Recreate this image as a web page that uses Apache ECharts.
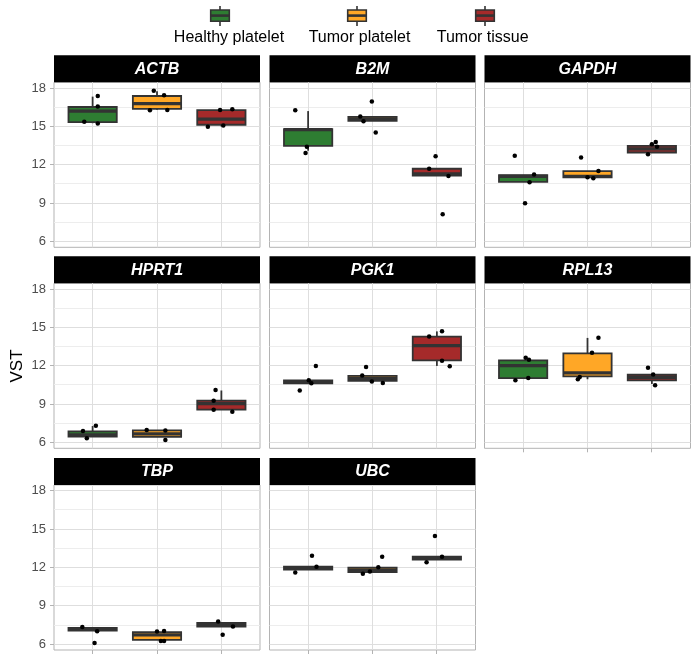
<!DOCTYPE html>
<html>
<head>
    <meta charset="utf-8">
    <title>VST boxplots</title>
    <script src="https://cdn.jsdelivr.net/npm/echarts@6.0.0/dist/echarts.min.js"></script>
</head>
<body style="margin:0;background:#fff;">
    <div id="main" style="width:700px;height:660px;"></div>
    <script type="text/javascript">
        var groups = ['Healthy platelet', 'Tumor platelet', 'Tumor tissue'];
        var genes = ['ACTB', 'B2M', 'GAPDH', 'HPRT1', 'PGK1', 'RPL13', 'TBP', 'UBC'];
        var yMajor = [6, 9, 12, 15, 18];
        var yMinor = [7.5, 10.5, 13.5, 16.5];

        // box per group: [lower whisker, q1, median, q3, upper whisker]
        var boxACTB = [[15.25, 15.34, 16.19, 16.52, 17.33], [16.3, 16.37, 16.78, 17.38, 17.76], [15.0, 15.13, 15.57, 16.27, 16.3]];
        var boxB2M = [[13.1, 13.48, 14.75, 14.79, 16.2], [15.44, 15.44, 15.59, 15.75, 15.75], [11.15, 11.15, 11.3, 11.69, 11.69]];
        var boxGAPDH = [[10.66, 10.66, 11.1, 11.2, 11.2], [11.02, 11.02, 11.1, 11.51, 11.51], [12.96, 12.96, 13.24, 13.48, 13.73]];
        var boxHPRT1 = [[6.46, 6.46, 6.6, 6.87, 7.29], [6.45, 6.45, 6.68, 6.95, 6.95], [8.55, 8.57, 9.04, 9.27, 10.07]];
        var boxPGK1 = [[10.63, 10.63, 10.76, 10.86, 10.86], [10.83, 10.83, 11.01, 11.22, 11.22], [11.99, 12.43, 13.58, 14.28, 14.69]];
        var boxRPL13 = [[11.04, 11.04, 12.02, 12.43, 12.43], [10.95, 11.17, 11.45, 12.97, 14.18], [10.58, 10.86, 11.09, 11.3, 11.3]];
        var boxTBP = [[7.06, 7.06, 7.17, 7.27, 7.27], [6.34, 6.34, 6.73, 6.94, 6.94], [7.38, 7.38, 7.56, 7.66, 7.66]];
        var boxUBC = [[11.83, 11.83, 11.93, 12.06, 12.06], [11.65, 11.65, 11.78, 11.98, 11.98], [12.61, 12.61, 12.74, 12.84, 12.84]];

        // jittered points: [group index, x offset, value]
        var ptsACTB = [[0, 0.08, 17.38], [0, 0.08, 16.55], [0, -0.13, 15.36], [0, 0.08, 15.23],
            [1, -0.05, 17.79], [1, 0.11, 17.43], [1, -0.11, 16.27], [1, 0.16, 16.29],
            [2, -0.02, 16.29], [2, 0.17, 16.34], [2, -0.21, 14.97], [2, 0.03, 15.08]];
        var ptsB2M = [[0, -0.2, 16.27], [0, -0.04, 12.93], [0, -0.02, 13.42],
            [1, -0.01, 16.94], [1, -0.19, 15.78], [1, -0.14, 15.41], [1, 0.05, 14.53],
            [2, -0.02, 12.67], [2, -0.12, 11.69], [2, 0.18, 11.12], [2, 0.09, 8.13]];
        var ptsGAPDH = [[0, -0.13, 12.7], [0, 0.03, 9.0], [0, 0.1, 10.63], [0, 0.17, 11.25],
            [1, -0.1, 12.57], [1, 0, 11.02], [1, 0.09, 10.94], [1, 0.17, 11.51],
            [2, 0.06, 13.79], [2, -0.06, 12.83], [2, 0.08, 13.42], [2, 0, 13.6]];
        var ptsHPRT1 = [[0, 0.05, 7.31], [0, -0.09, 6.34], [0, -0.15, 6.9],
            [1, -0.16, 6.98], [1, 0.13, 6.95], [1, 0.13, 6.2],
            [2, -0.09, 10.1], [2, -0.12, 9.27], [2, 0.17, 8.4], [2, -0.12, 8.57]];
        var ptsPGK1 = [[0, 0.12, 11.99], [0, -0.13, 10.06], [0, 0.01, 10.88], [0, 0.05, 10.63],
            [1, -0.1, 11.91], [1, -0.16, 11.24], [1, -0.01, 10.78], [1, 0.16, 10.65],
            [2, 0.08, 14.71], [2, -0.12, 14.3], [2, 0.08, 12.4], [2, 0.2, 11.96]];
        var ptsRPL13 = [[0, 0.04, 12.63], [0, 0.09, 12.48], [0, -0.12, 10.88], [0, 0.08, 11.04],
            [1, 0.17, 14.2], [1, 0.07, 13.02], [1, -0.15, 10.94], [1, -0.12, 11.12],
            [2, -0.06, 11.84], [2, 0.02, 11.32], [2, 0.05, 10.47]];
        var ptsTBP = [[0, -0.16, 7.35], [0, 0.07, 7.01], [0, 0.03, 6.1],
            [1, 0, 6.99], [1, 0.11, 7.04], [1, 0.06, 6.26], [1, 0.11, 6.26],
            [2, -0.05, 7.77], [2, 0.02, 6.75], [2, 0.18, 7.38]];
        var ptsUBC = [[0, 0.06, 12.92], [0, -0.2, 11.6], [0, 0.13, 12.06],
            [1, 0.15, 12.84], [1, -0.15, 11.52], [1, 0.09, 12.01], [1, -0.04, 11.68],
            [2, -0.03, 14.47], [2, -0.16, 12.42], [2, 0.08, 12.84]];

        var boxes = [boxACTB, boxB2M, boxGAPDH, boxHPRT1, boxPGK1, boxRPL13, boxTBP, boxUBC];
        var points = [ptsACTB, ptsB2M, ptsGAPDH, ptsHPRT1, ptsPGK1, ptsRPL13, ptsTBP, ptsUBC];

        var colors = ['#2e7d32', '#ffa726', '#a52a2a'];
        var font = 'Liberation Sans, Arial, sans-serif';
        var colLeft = [54, 269.5, 484.5];
        var rowTop = [82.3, 283.3, 485];
        var panelW = 206, panelH = 165, stripH = 27;
        var yMin = 5.55, yMax = 18.45;

        var myChart = echarts.init(document.getElementById('main'));

        var grids = [], xAxes = [], yAxes = [], series = [], graphics = [];

        function crisp(v) {
            return Math.round(v - 0.5) + 0.5;
        }

        genes.forEach(function (gene, i) {
            var col = i % 3, row = Math.floor(i / 3);
            var hasBottomAxis = (i + 3 >= genes.length);
            grids.push({
                left: colLeft[col], top: rowTop[row], width: panelW, height: panelH,
                show: true, borderColor: '#b3b3b3', borderWidth: 1, backgroundColor: '#fff'
            });
            xAxes.push({
                gridIndex: i, type: 'value', min: 0.4, max: 3.6,
                axisLine: { show: false }, axisTick: { show: false },
                axisLabel: { show: false }, splitLine: { show: false }
            });
            yAxes.push({
                gridIndex: i, type: 'value', min: yMin, max: yMax, interval: 0.15,
                axisLine: { show: false }, axisTick: { show: false }, splitLine: { show: false },
                axisLabel: {
                    show: col === 0, color: '#4d4d4d', fontSize: 13, fontFamily: font, margin: 8,
                    formatter: function (v) {
                        for (var k = 0; k < yMajor.length; k++) {
                            if (Math.abs(v - yMajor[k]) < 1e-6) return String(yMajor[k]);
                        }
                        return '';
                    }
                }
            });

            // grid lines and axis ticks
            series.push({
                type: 'custom', xAxisIndex: i, yAxisIndex: i, silent: true, z: 1,
                data: [[2, 12]],
                renderItem: function (params, api) {
                    var cs = params.coordSys;
                    var ch = [];
                    yMinor.forEach(function (v) {
                        var y = crisp(api.coord([1, v])[1]);
                        ch.push({ type: 'line', shape: { x1: cs.x, y1: y, x2: cs.x + cs.width, y2: y }, style: { stroke: '#ededed', lineWidth: 1 } });
                    });
                    yMajor.forEach(function (v) {
                        var y = crisp(api.coord([1, v])[1]);
                        ch.push({ type: 'line', shape: { x1: cs.x, y1: y, x2: cs.x + cs.width, y2: y }, style: { stroke: '#dedede', lineWidth: 1 } });
                        if (col === 0) {
                            ch.push({ type: 'line', shape: { x1: cs.x - 4, y1: y, x2: cs.x, y2: y }, style: { stroke: '#b3b3b3', lineWidth: 1 } });
                        }
                    });
                    [1, 2, 3].forEach(function (g) {
                        var x = crisp(api.coord([g, 12])[0]);
                        ch.push({ type: 'line', shape: { x1: x, y1: cs.y, x2: x, y2: cs.y + cs.height }, style: { stroke: '#dedede', lineWidth: 1 } });
                        if (hasBottomAxis) {
                            ch.push({ type: 'line', shape: { x1: x, y1: cs.y + cs.height, x2: x, y2: cs.y + cs.height + 4 }, style: { stroke: '#b3b3b3', lineWidth: 1 } });
                        }
                    });
                    return { type: 'group', children: ch };
                }
            });

            // boxes
            series.push({
                type: 'custom', xAxisIndex: i, yAxisIndex: i, silent: true, z: 3,
                encode: { x: 0, y: 3 },
                data: boxes[i].map(function (b, g) {
                    return [g + 1].concat(b).concat([g]);
                }),
                renderItem: function (params, api) {
                    var g = api.value(0);
                    var lo = api.value(1), q1 = api.value(2), md = api.value(3), q3 = api.value(4), hi = api.value(5);
                    var c = colors[api.value(6)];
                    var pHi = api.coord([g, hi]), pQ3 = api.coord([g, q3]);
                    var pQ1 = api.coord([g, q1]), pLo = api.coord([g, lo]);
                    var l = api.coord([g - 0.375, md])[0], r = api.coord([g + 0.375, md])[0];
                    var yMd = api.coord([g, md])[1];
                    return {
                        type: 'group', children: [
                            { type: 'line', shape: { x1: pHi[0], y1: pHi[1], x2: pQ3[0], y2: pQ3[1] }, style: { stroke: '#333', lineWidth: 1.8 } },
                            { type: 'line', shape: { x1: pLo[0], y1: pLo[1], x2: pQ1[0], y2: pQ1[1] }, style: { stroke: '#333', lineWidth: 1.8 } },
                            { type: 'rect', shape: { x: l, y: pQ3[1], width: r - l, height: pQ1[1] - pQ3[1] }, style: { fill: c, stroke: '#333', lineWidth: 1.8 } },
                            { type: 'line', shape: { x1: l, y1: yMd, x2: r, y2: yMd }, style: { stroke: '#333', lineWidth: 3.2 } }
                        ]
                    };
                }
            });

            // jittered points
            series.push({
                type: 'scatter', xAxisIndex: i, yAxisIndex: i, silent: true, z: 4,
                symbolSize: 4.5, itemStyle: { color: '#000', opacity: 1 },
                data: points[i].map(function (p) {
                    return [p[0] + 1 + p[1], p[2]];
                })
            });

            // strip
            graphics.push({
                type: 'rect', left: colLeft[col], top: rowTop[row] - stripH,
                shape: { width: panelW, height: stripH }, style: { fill: '#000' }
            });
            graphics.push({
                type: 'text', x: colLeft[col] + panelW / 2, y: rowTop[row] - stripH / 2 + 0.5,
                style: {
                    text: gene, fill: '#fff', fontSize: 16, fontWeight: 'bold', fontStyle: 'italic',
                    fontFamily: font, align: 'center', verticalAlign: 'middle',
                    textAlign: 'center', textVerticalAlign: 'middle'
                }
            });
        });

        // legend on top: key above label
        var keyX = [220, 357, 485];
        var labelX = [229, 359.5, 482.7];
        groups.forEach(function (name, g) {
            var x = keyX[g];
            graphics.push({ type: 'line', shape: { x1: x, y1: 6, x2: x, y2: 26 }, style: { stroke: '#333', lineWidth: 1.6 } });
            graphics.push({ type: 'rect', shape: { x: x - 9.3, y: 10, width: 18.6, height: 11.3 }, style: { fill: colors[g], stroke: '#333', lineWidth: 1.6 } });
            graphics.push({ type: 'line', shape: { x1: x - 9.3, y1: 15.6, x2: x + 9.3, y2: 15.6 }, style: { stroke: '#333', lineWidth: 2.6 } });
            graphics.push({
                type: 'text', x: labelX[g], y: 38,
                style: {
                    text: name, fill: '#000', fontSize: 16, fontFamily: font,
                    align: 'center', verticalAlign: 'middle', textAlign: 'center', textVerticalAlign: 'middle'
                }
            });
        });

        // y axis title
        graphics.push({
            type: 'text', x: 17, y: 366, rotation: Math.PI / 2,
            style: {
                text: 'VST', fill: '#000', fontSize: 17, fontFamily: font,
                align: 'center', verticalAlign: 'middle', textAlign: 'center', textVerticalAlign: 'middle'
            }
        });

        var option = {
            backgroundColor: '#fff',
            animation: false,
            textStyle: { fontFamily: font },
            grid: grids,
            xAxis: xAxes,
            yAxis: yAxes,
            series: series,
            graphic: { elements: graphics }
        };

        myChart.setOption(option);
    </script>
</body>
</html>
